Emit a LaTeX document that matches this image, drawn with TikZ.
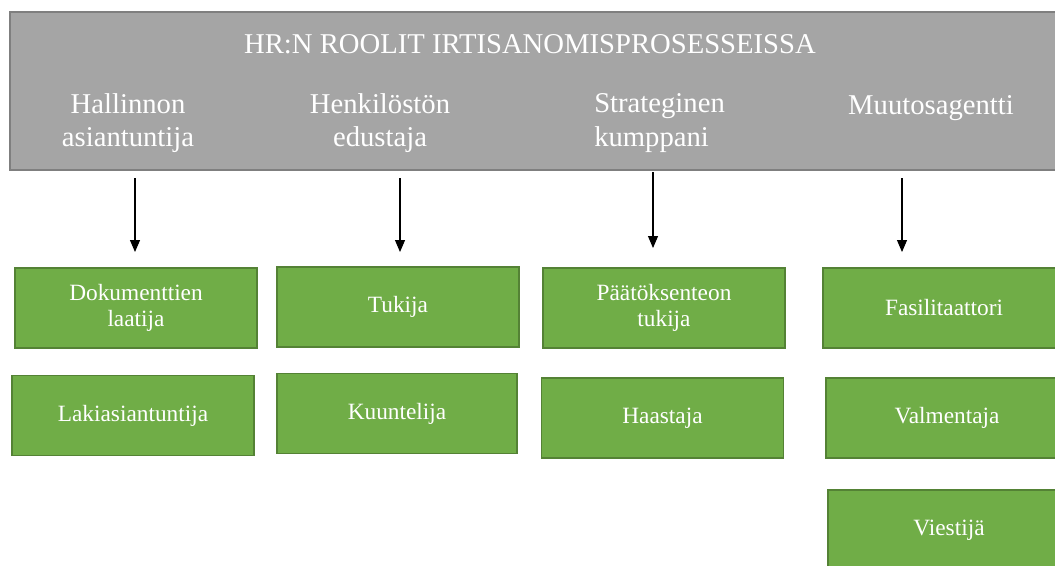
\documentclass[tikz,border=0pt]{standalone}
\usepackage{fontspec}
\setmainfont{Liberation Serif}
\newfontfamily\rolefont{Liberation Serif}
\usetikzlibrary{arrows.meta}
\definecolor{bannerfill}{HTML}{A5A5A5}
\definecolor{banneredge}{HTML}{7F7F7F}
\definecolor{rolefill}{HTML}{70AD47}
\definecolor{roleedge}{HTML}{548235}
\begin{document}
\begin{tikzpicture}[x=0.75pt,y=-0.75pt,
	banner/.style={draw=banneredge, fill=bannerfill, line width=1pt, minimum width=789pt, minimum height=118.5pt, inner sep=0pt},
	headtext/.style={text=white, font=\rolefont\fontsize{21.5}{25}\selectfont, inner sep=0pt},
	rolebox/.style={draw=roleedge, fill=rolefill, line width=1pt, text=white, align=center, font=\rolefont\fontsize{17.5}{19}\selectfont, minimum width=181.5pt, minimum height=60pt, inner sep=0pt},
	roleline/.style={-{Triangle[width=7.5pt,length=9pt]}, line width=0.8pt}]
	\useasboundingbox (0,0) rectangle (1055,565);

	% banner
	\node[banner] (banner) at (536,91) {};
	\node[headtext] (title) at (530,44) {HR:N ROOLIT IRTISANOMISPROSESSEISSA};
	\node[headtext, align=center] (hal) at (128,123) {Hallinnon\\asiantuntija};
	\node[headtext, align=center] (hen) at (380,123) {Henkilöstön\\edustaja};
	\node[headtext, align=left, anchor=west] (str) at (594,123) {Strateginen\\kumppani};
	\node[headtext] (muu) at (931,108) {Muutosagentti};

	% roles
	\node[rolebox] (dok) at (136,308) {Dokumenttien\\laatija};
	\node[rolebox] (lak) at (133,415.5) {Lakiasiantuntija};
	\node[rolebox] (tuk) at (398,307) {Tukija};
	\node[rolebox, minimum width=180pt] (kuu) at (397,413.5) {Kuuntelija};
	\node[rolebox] (paa) at (664,308) {Päätöksenteon\\tukija};
	\node[rolebox] (haa) at (662.5,418) {Haastaja};
	\node[rolebox] (fas) at (944,308) {Fasilitaattori};
	\node[rolebox] (val) at (947,418) {Valmentaja};
	\node[rolebox] (vie) at (949,530) {Viestijä};

	% arrows
	\coordinate (a1) at (135,178);
	\coordinate (b1) at (135,252);
	\coordinate (a2) at (400,178);
	\coordinate (b2) at (400,252);
	\coordinate (a3) at (653,172);
	\coordinate (b3) at (653,248);
	\coordinate (a4) at (902,178);
	\coordinate (b4) at (902,252);
	\draw[roleline] (a1) -- (b1);
	\draw[roleline] (a2) -- (b2);
	\draw[roleline] (a3) -- (b3);
	\draw[roleline] (a4) -- (b4);
\end{tikzpicture}
\end{document}
